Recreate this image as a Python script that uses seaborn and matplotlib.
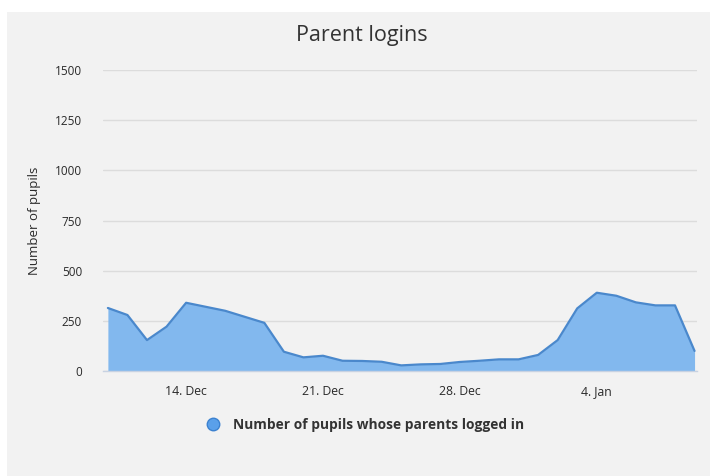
import pandas as pd
import matplotlib.pyplot as plt
import seaborn as sns
from matplotlib.lines import Line2D
from matplotlib.patches import Rectangle

# daily counts, 10 Dec -> 9 Jan
dates = pd.date_range('2015-12-10', '2016-01-09', freq='D')
pupils = [314, 279, 154, 221, 340, 320, 300, 270, 240, 96, 68, 76, 51, 50, 46,
          28, 33, 35, 45, 51, 58, 58, 80, 154, 312, 390, 375, 342, 327, 327, 100]
y_ticks = [0, 250, 500, 750, 1000, 1250, 1500]
tick_dates = ['2015-12-14', '2015-12-21', '2015-12-28', '2016-01-04']
tick_labels = ['14. Dec', '21. Dec', '28. Dec', '4. Jan']

df = pd.DataFrame({'date': dates, 'pupils': pupils})

sns.set_style('white')
plt.rcParams['font.family'] = ['Open Sans', 'DejaVu Sans']

fig = plt.figure(figsize=(7.14, 4.76), dpi=100, facecolor='white')
# grey chart panel behind everything
fig.patches.append(Rectangle((7 / 714, 0), 703 / 714, 1 - 12 / 476,
                             transform=fig.transFigure, facecolor='#f2f2f2',
                             edgecolor='none', zorder=-1))
ax = fig.add_axes([103 / 714, 1 - 371 / 476, 594 / 714, 301 / 476])
ax.set_zorder(1)
ax.set_facecolor('none')

fill_col = '#82b8ee'
line_col = '#4a88cc'
ax.fill_between(df['date'], df['pupils'], 0, color=fill_col, lw=0, zorder=2)
sns.lineplot(data=df, x='date', y='pupils', ax=ax, color=line_col, lw=1.6,
             zorder=3, legend=False)

ax.set_ylim(0, 1500)
ax.set_yticks(y_ticks)
ax.set_xlim(pd.Timestamp('2015-12-09 18:00'), pd.Timestamp('2016-01-09 03:00'))
ax.set_xticks([pd.Timestamp(d) for d in tick_dates])
ax.set_xticklabels(tick_labels)

ax.grid(axis='y', color='#dcdcdc', lw=1, zorder=1)
ax.grid(axis='x', visible=False)
for s in ['top', 'right', 'left']:
    ax.spines[s].set_visible(False)
ax.spines['bottom'].set_color('#c8d2e2')
ax.spines['bottom'].set_linewidth(1)
ax.spines['bottom'].set_zorder(4)

ax.tick_params(axis='y', length=0, pad=15, labelsize=8.5, labelcolor='#2a2a2a')
ax.tick_params(axis='x', length=7, width=1, color='#c8d2e2', pad=3,
               labelsize=8.8, labelcolor='#2a2a2a')

ax.set_xlabel('')
ax.set_ylabel('Number of pupils', fontsize=9.5, color='#2a2a2a', labelpad=10)
fig.text(362 / 714, 1 - 36 / 476, 'Parent logins', ha='center', va='center',
         fontsize=15.5, color='#333333')

handle = Line2D([], [], marker='o', ls='none', markersize=9,
                markerfacecolor='#5aa0ea', markeredgecolor='#3c82d0')
fig.legend([handle], ['Number of pupils whose parents logged in'],
           loc='center', bbox_to_anchor=(362 / 714, 1 - 425 / 476),
           frameon=False, prop={'size': 9.9, 'weight': 'bold'},
           labelcolor='#333333', handletextpad=0.45)

fig.savefig('out.png', dpi=100, facecolor='white')
